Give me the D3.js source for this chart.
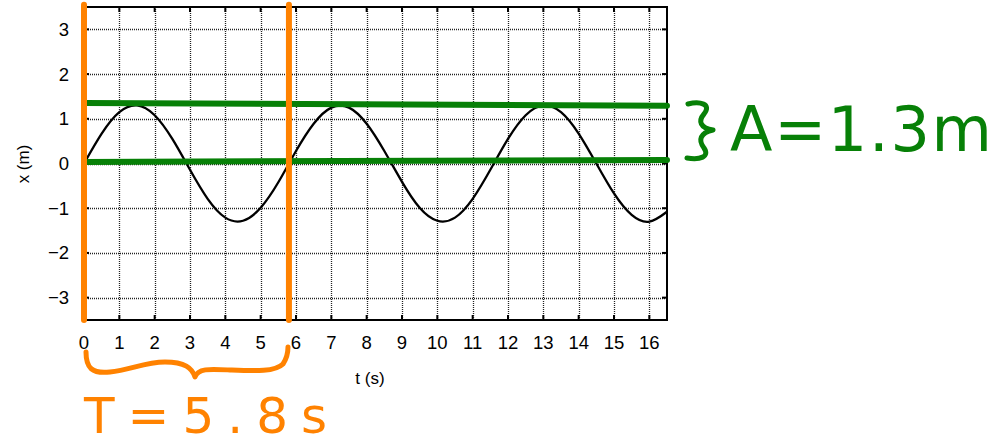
<!DOCTYPE html>
<html><head><meta charset="utf-8">
<script src="https://cdn.jsdelivr.net/npm/d3@7"></script>
<style>
html,body{margin:0;padding:0;background:#fff;}
svg{display:block;}
</style></head>
<body>
<svg id="c" width="1002" height="446"></svg>
<script>
// ---- data ----
const tValues = [0,0.5,1,1.5,2,2.5,3,3.5,4,4.5,5,5.5,6,6.5,7,7.5,8,8.5,9,9.5,10,10.5,11,11.5,12,12.5,13,13.5,14,14.5,15,15.5,16,16.5];
const xValues = [0,0.67,1.15,1.30,1.08,0.55,-0.14,-0.79,-1.21,-1.28,-0.99,-0.42,0.28,0.89,1.25,1.25,0.89,0.28,-0.41,-0.99,-1.28,-1.21,-0.79,-0.14,0.55,1.08,1.30,1.15,0.67,0.00,-0.67,-1.15,-1.30,-1.08];
const xTicks = [0,1,2,3,4,5,6,7,8,9,10,11,12,13,14,15,16];
const yTicks = [-3,-2,-1,0,1,2,3];
const periodMarks = [0, 5.8];          // orange vertical lines (t)
const ampLines = [[1.355,1.29],[0.035,0.08]]; // green lines: value at t=0, value at t=16.5
const ampLabel = "A=1.3m";
const periodLabel = "T=5.8s";

// ---- layout ----
const svg = d3.select("#c");
const x = d3.scaleLinear().domain([0,16.5]).range([84,667]);
const y = d3.scaleLinear().domain([-3.5,3.5]).range([320,7]);
const orange = "#ff8200", green = "#078007";
const font = "'Liberation Sans', Arial, Helvetica, sans-serif";

// grid
const g = svg.append("g");
g.selectAll(".vg").data(xTicks.filter(d=>d>0)).enter().append("line")
  .attr("x1",d=>Math.round(x(d))+0.5).attr("x2",d=>Math.round(x(d))+0.5)
  .attr("y1",y(3.5)).attr("y2",y(-3.5))
  .attr("stroke","#222").attr("stroke-width",1.3).attr("stroke-dasharray","1,1");
g.selectAll(".hg").data(yTicks).enter().append("line")
  .attr("y1",d=>Math.round(y(d))+0.5).attr("y2",d=>Math.round(y(d))+0.5)
  .attr("x1",x(0)).attr("x2",x(16.5))
  .attr("stroke","#222").attr("stroke-width",1.3).attr("stroke-dasharray","1,1");

// tick marks inward (all four sides)
const tk = 5;
g.selectAll(".tb").data(xTicks).enter().append("line")
  .attr("x1",d=>x(d)).attr("x2",d=>x(d)).attr("y1",y(-3.5)).attr("y2",y(-3.5)-tk)
  .attr("stroke","#000").attr("stroke-width",2);
g.selectAll(".tt").data(xTicks).enter().append("line")
  .attr("x1",d=>x(d)).attr("x2",d=>x(d)).attr("y1",y(3.5)).attr("y2",y(3.5)+tk)
  .attr("stroke","#000").attr("stroke-width",2);
g.selectAll(".tl").data(yTicks).enter().append("line")
  .attr("y1",d=>y(d)).attr("y2",d=>y(d)).attr("x1",x(0)).attr("x2",x(0)+tk)
  .attr("stroke","#000").attr("stroke-width",2);
g.selectAll(".tr").data(yTicks).enter().append("line")
  .attr("y1",d=>y(d)).attr("y2",d=>y(d)).attr("x1",x(16.5)).attr("x2",x(16.5)-tk)
  .attr("stroke","#000").attr("stroke-width",2);

// frame
svg.append("rect").attr("x",x(0)).attr("y",y(3.5))
  .attr("width",x(16.5)-x(0)).attr("height",y(-3.5)-y(3.5))
  .attr("fill","none").attr("stroke","#000").attr("stroke-width",2);

// tick labels
svg.selectAll(".xl").data(xTicks).enter().append("text")
  .attr("x",d=>x(d)).attr("y",349).attr("text-anchor","middle")
  .attr("font-family",font).attr("font-size",18.5).text(d=>d);
svg.selectAll(".yl").data(yTicks).enter().append("text")
  .attr("x",69).attr("y",d=>y(d)+6.5).attr("text-anchor","end")
  .attr("font-family",font).attr("font-size",18.5).text(d=>d<0?"\u2212"+Math.abs(d):d);

// axis titles
svg.append("text").attr("x",370).attr("y",384).attr("text-anchor","middle")
  .attr("font-family",font).attr("font-size",17).text("t (s)");
svg.append("text").attr("transform","translate(29,164) rotate(-90)").attr("text-anchor","middle")
  .attr("font-family",font).attr("font-size",17).text("x (m)");

// curve
const line = d3.line().x((d,i)=>x(tValues[i])).y(d=>y(d)).curve(d3.curveNatural);
svg.append("path").datum(xValues).attr("d",line)
  .attr("fill","none").attr("stroke","#000").attr("stroke-width",2.3);

// green amplitude lines
svg.selectAll(".al").data(ampLines).enter().append("line")
  .attr("x1",x(0)).attr("x2",x(16.5))
  .attr("y1",d=>y(d[0])).attr("y2",d=>y(d[1]))
  .attr("stroke",green).attr("stroke-width",6).attr("stroke-linecap","round");

// orange period lines
svg.selectAll(".pl").data(periodMarks).enter().append("line")
  .attr("x1",d=>x(d)).attr("x2",d=>x(d))
  .attr("y1",y(3.55)).attr("y2",y(-3.5))
  .attr("stroke",orange).attr("stroke-width",6).attr("stroke-linecap","round");

// green brace
svg.append("path")
  .attr("d","M688,104 C700,101 712,104 704,114 C698,121 700,128 713,130 C700,133 698,140 704,148 C710,157 700,160 687,158")
  .attr("fill","none").attr("stroke",green).attr("stroke-width",5)
  .attr("stroke-linecap","round").attr("stroke-linejoin","round");
svg.append("text").attr("x",730).attr("y",151)
  .attr("font-family","'DejaVu Sans', sans-serif").attr("font-size",62)
  .attr("textLength",262).attr("lengthAdjust","spacing")
  .attr("fill",green).text(ampLabel);

// orange brace
svg.append("path")
  .attr("d","M86,352 C86,368 92,374 110,372 C130,370 145,362 165,362 C185,362 192,368 195,377 C198,368 210,369 230,370 C255,371 275,372 283,364 C287,358 288,352 288,347")
  .attr("fill","none").attr("stroke",orange).attr("stroke-width",5)
  .attr("stroke-linecap","round").attr("stroke-linejoin","round");
svg.append("text").attr("x",84).attr("y",433)
  .attr("font-family","'DejaVu Sans', sans-serif").attr("font-size",50)
  .attr("textLength",243).attr("lengthAdjust","spacing")
  .attr("fill",orange).text(periodLabel);
</script>
</body></html>
